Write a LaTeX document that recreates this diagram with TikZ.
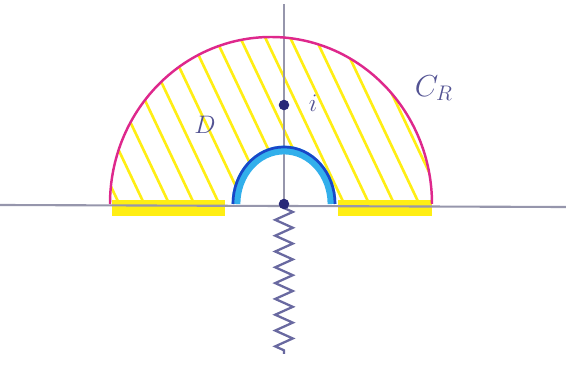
\documentclass[tikz,border=0pt]{standalone}
\usepackage{amsmath,amssymb}
\usetikzlibrary{decorations.pathmorphing}
\definecolor{arcpink}{RGB}{222,40,140}
\definecolor{hatchyel}{RGB}{255,238,20}
\definecolor{smallblue}{RGB}{25,70,200}
\definecolor{smallcyan}{RGB}{50,175,235}
\definecolor{axisgray}{RGB}{150,150,172}
\definecolor{inkblue}{RGB}{40,40,120}
\tikzset{
  axisline/.style={axisgray,line width=1.2pt},
  hatchline/.style={hatchyel,line width=1.5pt},
  inkdot/.style={circle,fill=inkblue,inner sep=0pt,minimum size=6pt},
  handlabel/.style={inkblue!80,font=\Large}
}

\begin{document}
\begin{tikzpicture}[x=0.02cm, y=0.02cm]
        \useasboundingbox (-284,-165) rectangle (282,204);
        % Hatching of D (clipped to the half ring)
        \begin{scope}
          \clip (-174,0) arc[start angle=180, end angle=0, x radius=161, y radius=167]
            -- (50,0) arc[start angle=0, end angle=180, x radius=50, y radius=56] -- cycle;
          \foreach \s in {-280,-255,...,140}
            \draw[hatchline] (\s,190) -- ++(95,-200);
        \end{scope}
        % Yellow parts of the real line
        \fill[hatchyel] (-172,4) rectangle (-59,-12);
        \fill[hatchyel] (54,4) rectangle (148,-12);
        % Axes
        \draw[axisline] (-284,-1) -- (282,-3);
        \draw[axisline] (0,200) -- (0,0);
        % Branch cut
        \draw[inkblue!70,line width=1.3pt,decorate,
              decoration={zigzag,segment length=9,amplitude=5}] (0,-4) -- (0,-150);
        % Big arc C_R
        \draw[arcpink,line width=1.4pt] (-174,0)
          arc[start angle=180, end angle=0, x radius=161, y radius=167];
        % Small arc
        \draw[smallcyan,line width=5pt] (-48,0)
          arc[start angle=180, end angle=0, x radius=48, y radius=54];
        \draw[smallblue,line width=1.5pt] (-51,0)
          arc[start angle=180, end angle=0, x radius=51, y radius=57];
        % Points
        \node[inkdot] (orig) at (0,0) {};
        \node[inkdot] (ipt) at (0,99) {};
        % Labels
        \node[handlabel] (dlab) at (-79,79) {$D$};
        \node[handlabel] (ilab) at (29,101) {$i$};
        \node[handlabel,font=\LARGE] (crlab) at (150,116) {$C_R$};
      \end{tikzpicture}
\end{document}
